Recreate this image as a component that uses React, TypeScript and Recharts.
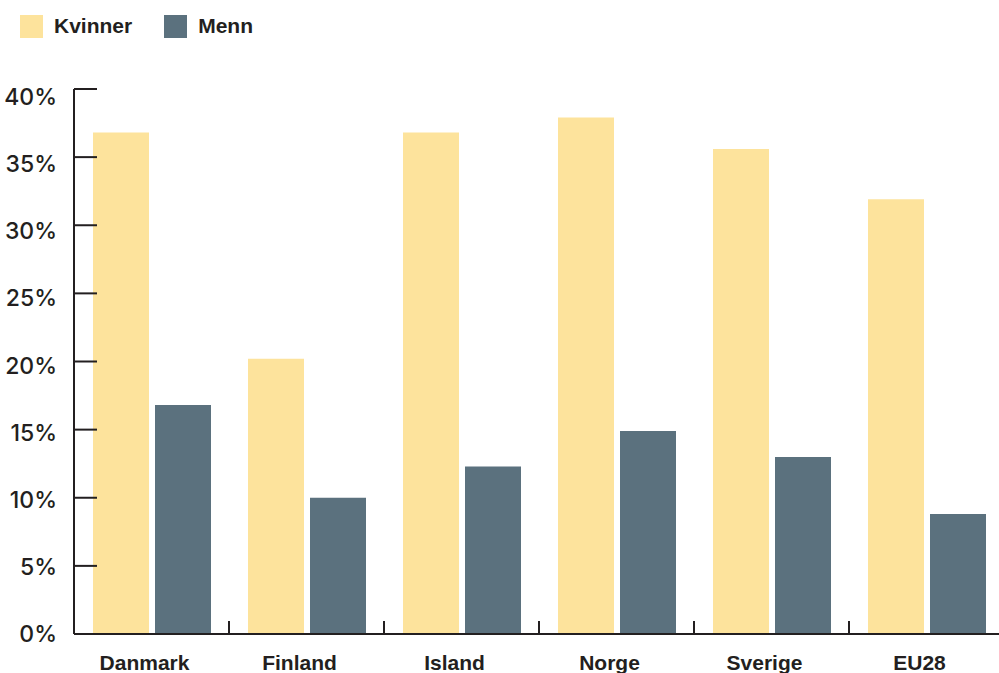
import React from 'react';
import { BarChart, Bar, XAxis, YAxis } from 'recharts';

const categories = ['Danmark', 'Finland', 'Island', 'Norge', 'Sverige', 'EU28'];
const kvinner = [36.8, 20.2, 36.8, 37.9, 35.6, 31.9];
const menn = [16.8, 10.0, 12.3, 14.9, 13.0, 8.8];
const yTicks = [0, 5, 10, 15, 20, 25, 30, 35, 40];

const series = [
  { key: 'kvinner', name: 'Kvinner', color: '#fde39c' },
  { key: 'menn', name: 'Menn', color: '#5b717e' },
];

const data = categories.map((c, i) => ({ name: c, kvinner: kvinner[i], menn: menn[i] }));

const INK = '#231f20';
const FONT = '"Liberation Sans", Arial, sans-serif';
const TICK_FONT = 'Inter, "Liberation Sans", Arial, sans-serif';
const CHART_W = 1010;
const CHART_H = 673;
const MARGIN = { top: 89, right: 6, bottom: 0, left: 0 };
const Y_W = 74;
const X_H = 39;
const PLOT_W = CHART_W - MARGIN.left - MARGIN.right - Y_W;
const BAND = PLOT_W / categories.length;
const Y_MAX = 40;

function YTick(props: any) {
  const { x, y, payload } = props;
  const v = payload.value as number;
  return (
    <g>
      <line x1={x + 17} x2={x + 40} y1={y} y2={y} stroke={INK} strokeWidth={2} />
      <text
        x={x}
        y={y + (v / Y_MAX) * 8}
        textAnchor="end"
        dominantBaseline="central"
        fill={INK}
        fontFamily={TICK_FONT}
        fontWeight={500}
        fontSize={23}
      >
        {v}%
      </text>
    </g>
  );
}

function XTick(props: any) {
  const { x, y, payload, index } = props;
  const axisY = y - 21;
  return (
    <g>
      {index < categories.length ? (
        <line x1={x + BAND / 2} x2={x + BAND / 2} y1={axisY - 13} y2={axisY} stroke={INK} strokeWidth={2} />
      ) : null}
      <text
        x={x - 7}
        y={y}
        dy="0.71em"
        textAnchor="middle"
        fill={INK}
        fontFamily={FONT}
        fontWeight="bold"
        fontSize={21}
      >
        {payload.value}
      </text>
    </g>
  );
}

export default function App() {
  return (
    <div
      style={{
        position: 'absolute',
        left: 0,
        top: 0,
        width: 999,
        height: 673,
        overflow: 'hidden',
        background: '#fff',
      }}
    >
      <div
        style={{
          position: 'absolute',
          left: 20,
          top: 14,
          display: 'flex',
          alignItems: 'center',
          fontFamily: FONT,
          fontWeight: 'bold',
          fontSize: 21,
          color: INK,
        }}
      >
        {series.map((s, i) => (
          <div key={s.key} style={{ display: 'flex', alignItems: 'center', marginRight: i === 0 ? 32 : 0 }}>
            <div style={{ width: 23, height: 23, background: s.color, marginRight: 11 }} />
            <span>{s.name}</span>
          </div>
        ))}
      </div>
      <div style={{ position: 'absolute', left: 0, top: 0 }}>
        <BarChart width={CHART_W} height={CHART_H} data={data} margin={MARGIN} barSize={56} barGap={6}>
          {series.map((s) => (
            <Bar key={s.key} dataKey={s.key} name={s.name} fill={s.color} isAnimationActive={false} />
          ))}
          <XAxis
            dataKey="name"
            height={X_H}
            interval={0}
            tickSize={0}
            tickMargin={21}
            tickLine={false}
            axisLine={{ stroke: INK, strokeWidth: 2 }}
            tick={<XTick />}
          />
          <YAxis
            width={Y_W}
            domain={[0, Y_MAX]}
            ticks={yTicks}
            interval={0}
            tickSize={0}
            tickMargin={17}
            tickLine={false}
            axisLine={{ stroke: INK, strokeWidth: 2 }}
            tick={<YTick />}
          />
        </BarChart>
      </div>
    </div>
  );
}
